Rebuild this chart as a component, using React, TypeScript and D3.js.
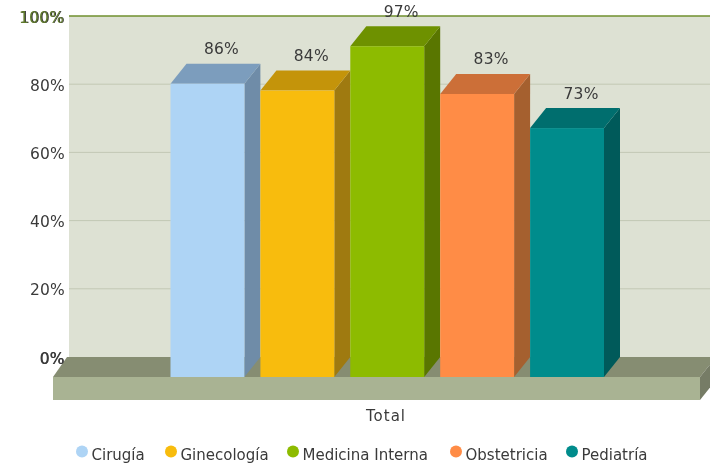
import React, { useEffect, useRef } from 'react'
import * as d3 from 'd3'

const categories = ['Cirugía', 'Ginecología', 'Medicina Interna', 'Obstetricia', 'Pediatría']
const values = [86, 84, 97, 83, 73]
const ticks = [0, 20, 40, 60, 80, 100]
const frontColors = ['#aed4f5', '#f8bc0d', '#8dbb00', '#ff8c46', '#008c8c']
const topColors = ['#7c9dbd', '#c4940a', '#6e9100', '#cc6f38', '#006e6e']
const sideColors = ['#6f8ca8', '#9f7a10', '#597600', '#a5602f', '#005a5a']
const legendX = [82, 171, 293, 456, 572]

const font = '"DejaVu Sans", sans-serif'
const depthX = 16
const depthY = 20

export default function App() {
  const ref = useRef<SVGSVGElement>(null)

  useEffect(() => {
    const svg = d3.select(ref.current)
    svg.selectAll('*').remove()

    const y = d3.scaleLinear().domain([0, 100]).range([357, 16])
    const x = d3.scaleBand<string>().domain(categories).range([170.5, 604]).paddingInner(0.178)
    const poly = (pts: number[][]) => d3.line()(pts as [number, number][]) + 'Z'

    const wallLeft = 69
    const floorLeft = 53
    const floorRight = 700
    const floorFront = y(0) + depthY
    const floorBottom = floorFront + 23

    // back wall
    svg.append('rect')
      .attr('x', wallLeft).attr('y', y(100))
      .attr('width', 710 - wallLeft).attr('height', y(0) - y(100))
      .attr('fill', '#dde1d3')

    svg.selectAll('line.grid')
      .data(ticks.slice(1, -1))
      .join('line')
      .attr('x1', wallLeft).attr('x2', 710)
      .attr('y1', d => y(d)).attr('y2', d => y(d))
      .attr('stroke', '#c2c8b4')

    svg.append('line')
      .attr('x1', wallLeft).attr('x2', 710)
      .attr('y1', y(100)).attr('y2', y(100))
      .attr('stroke', '#6f8f2e').attr('stroke-width', 1.5)

    // floor slab
    svg.append('path')
      .attr('d', poly([[floorLeft, floorFront], [floorLeft + 14, y(0)], [floorRight + depthX, y(0)], [floorRight, floorFront]]))
      .attr('fill', '#868d72')
    svg.append('path')
      .attr('d', poly([[floorRight, floorFront], [floorRight + depthX, y(0)], [floorRight + depthX, y(0) + 23], [floorRight, floorBottom]]))
      .attr('fill', '#767c66')
    svg.append('rect')
      .attr('x', floorLeft).attr('y', floorFront)
      .attr('width', floorRight - floorLeft).attr('height', floorBottom - floorFront)
      .attr('fill', '#a9b393')

    // y axis labels
    svg.selectAll('text.tick')
      .data(ticks)
      .join('text')
      .attr('x', 65).attr('y', d => y(d) + 6.5)
      .attr('text-anchor', 'end')
      .attr('font-family', font).attr('font-size', 15.5).attr('letter-spacing', 0.2)
      .attr('fill', '#3a3a3a')
      .text(d => d + '%')

    // the extreme labels are printed twice in the original
    svg.append('text')
      .attr('x', 64).attr('y', y(100) + 6.5)
      .attr('text-anchor', 'end')
      .attr('font-family', font).attr('font-size', 15.5).attr('letter-spacing', 0.2)
      .attr('fill', '#5f7a2a')
      .text('100%')
    svg.append('text')
      .attr('x', 64.5).attr('y', y(0) + 6.5)
      .attr('text-anchor', 'end')
      .attr('font-family', font).attr('font-size', 15.5).attr('letter-spacing', 0.2)
      .attr('fill', '#3a3a3a')
      .text('0%')

    // bars, left to right so each one overlaps the side of the previous one
    const bars = svg.selectAll('g.bar')
      .data(categories)
      .join('g')

    bars.append('path')
      .attr('d', (c, i) => {
        const x1 = x(c)! + x.bandwidth()
        const top = y(values[i]) + depthY
        return poly([[x1, top], [x1 + depthX, top - depthY], [x1 + depthX, y(0)], [x1, floorFront]])
      })
      .attr('fill', (c, i) => sideColors[i])

    bars.append('path')
      .attr('d', (c, i) => {
        const x0 = x(c)!
        const x1 = x0 + x.bandwidth()
        const top = y(values[i]) + depthY
        return poly([[x0, top], [x0 + depthX, top - depthY], [x1 + depthX, top - depthY], [x1, top]])
      })
      .attr('fill', (c, i) => topColors[i])

    bars.append('rect')
      .attr('x', c => x(c)!)
      .attr('y', (c, i) => y(values[i]) + depthY)
      .attr('width', x.bandwidth())
      .attr('height', (c, i) => y(0) - y(values[i]))
      .attr('fill', (c, i) => frontColors[i])

    bars.append('text')
      .attr('x', c => x(c)! + x.bandwidth() / 2 + 14)
      .attr('y', (c, i) => y(values[i]) - 9.5)
      .attr('text-anchor', 'middle')
      .attr('font-family', font).attr('font-size', 15.5).attr('letter-spacing', 0.2)
      .attr('fill', '#3a3a3a')
      .text((c, i) => values[i] + '%')

    svg.append('text')
      .attr('x', 386).attr('y', 421)
      .attr('text-anchor', 'middle')
      .attr('font-family', font).attr('font-size', 15).attr('letter-spacing', 1)
      .attr('fill', '#3a3a3a')
      .text('Total')

    // legend
    const legend = svg.selectAll('g.legend')
      .data(categories)
      .join('g')
      .attr('transform', (c, i) => `translate(${legendX[i]},451.5)`)
    legend.append('circle')
      .attr('r', 6)
      .attr('fill', (c, i) => frontColors[i])
    legend.append('text')
      .attr('x', 9.5).attr('y', 8.5)
      .attr('font-family', font).attr('font-size', 15)
      .attr('fill', '#3a3a3a')
      .text(c => c)
  }, [])

  return <svg ref={ref} width={710} height={466} style={{ position: 'absolute', left: 0, top: 0, filter: 'blur(0.4px)' }} />
}
